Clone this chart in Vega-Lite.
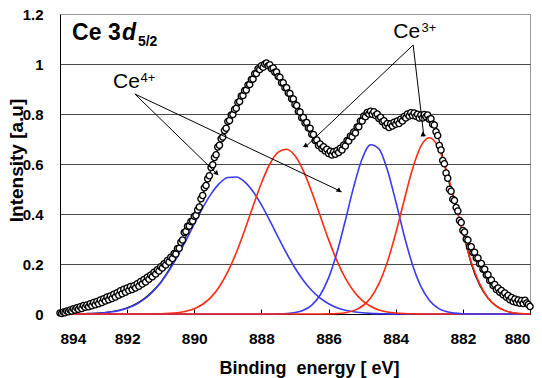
{
"$schema": "https://vega.github.io/schema/vega-lite/v6.json",
"width": 470, "height": 300,
"autosize": {"type": "none"},
"padding": {"left": 60, "top": 14, "right": 12, "bottom": 64},
"background": "white",
"config": {
 "font": "Liberation Sans",
 "view": {"stroke": "#9a9a9a", "strokeWidth": 1},
 "axis": {"labelFont": "Liberation Sans", "titleFont": "Liberation Sans", "labelColor": "#000", "titleColor": "#000", "labelFontWeight": "bold", "titleFontWeight": "bold", "domainColor": "#000", "domainWidth": 1}
},
"datasets": {
 "spec": [
{"e":894.00,"i":0.004},{"e":893.95,"i":0.002},{"e":893.90,"i":0.008},{"e":893.85,"i":0.005},{"e":893.80,"i":0.012},{"e":893.75,"i":0.009},{"e":893.70,"i":0.016},{"e":893.65,"i":0.012},{"e":893.60,"i":0.021},{"e":893.55,"i":0.016},
{"e":893.50,"i":0.025},{"e":893.45,"i":0.019},{"e":893.40,"i":0.029},{"e":893.35,"i":0.022},{"e":893.30,"i":0.034},{"e":893.25,"i":0.027},{"e":893.20,"i":0.036},{"e":893.15,"i":0.029},{"e":893.10,"i":0.041},{"e":893.05,"i":0.033},
{"e":893.00,"i":0.046},{"e":892.95,"i":0.037},{"e":892.90,"i":0.050},{"e":892.85,"i":0.041},{"e":892.80,"i":0.056},{"e":892.75,"i":0.046},{"e":892.70,"i":0.061},{"e":892.65,"i":0.052},{"e":892.60,"i":0.068},{"e":892.55,"i":0.057},
{"e":892.50,"i":0.072},{"e":892.45,"i":0.062},{"e":892.40,"i":0.079},{"e":892.35,"i":0.068},{"e":892.30,"i":0.085},{"e":892.25,"i":0.075},{"e":892.20,"i":0.093},{"e":892.15,"i":0.081},{"e":892.10,"i":0.099},{"e":892.05,"i":0.087},
{"e":892.00,"i":0.104},{"e":891.95,"i":0.094},{"e":891.90,"i":0.110},{"e":891.85,"i":0.098},{"e":891.80,"i":0.113},{"e":891.75,"i":0.104},{"e":891.70,"i":0.121},{"e":891.65,"i":0.111},{"e":891.60,"i":0.130},{"e":891.55,"i":0.120},
{"e":891.50,"i":0.138},{"e":891.45,"i":0.128},{"e":891.40,"i":0.147},{"e":891.35,"i":0.139},{"e":891.30,"i":0.156},{"e":891.25,"i":0.149},{"e":891.20,"i":0.167},{"e":891.15,"i":0.160},{"e":891.10,"i":0.177},{"e":891.05,"i":0.172},
{"e":891.00,"i":0.189},{"e":890.95,"i":0.184},{"e":890.90,"i":0.201},{"e":890.85,"i":0.196},{"e":890.80,"i":0.214},{"e":890.75,"i":0.208},{"e":890.70,"i":0.227},{"e":890.65,"i":0.222},{"e":890.60,"i":0.242},{"e":890.55,"i":0.240},
{"e":890.50,"i":0.262},{"e":890.45,"i":0.263},{"e":890.40,"i":0.287},{"e":890.35,"i":0.296},{"e":890.30,"i":0.326},{"e":890.25,"i":0.330},{"e":890.20,"i":0.351},{"e":890.15,"i":0.352},{"e":890.10,"i":0.370},{"e":890.05,"i":0.372},
{"e":890.00,"i":0.391},{"e":889.95,"i":0.394},{"e":889.90,"i":0.416},{"e":889.85,"i":0.428},{"e":889.80,"i":0.461},{"e":889.75,"i":0.474},{"e":889.70,"i":0.505},{"e":889.65,"i":0.514},{"e":889.60,"i":0.541},{"e":889.55,"i":0.553},
{"e":889.50,"i":0.586},{"e":889.45,"i":0.597},{"e":889.40,"i":0.626},{"e":889.35,"i":0.637},{"e":889.30,"i":0.668},{"e":889.25,"i":0.675},{"e":889.20,"i":0.701},{"e":889.15,"i":0.708},{"e":889.10,"i":0.734},{"e":889.05,"i":0.743},
{"e":889.00,"i":0.770},{"e":888.95,"i":0.774},{"e":888.90,"i":0.796},{"e":888.85,"i":0.798},{"e":888.80,"i":0.818},{"e":888.75,"i":0.823},{"e":888.70,"i":0.846},{"e":888.65,"i":0.850},{"e":888.60,"i":0.872},{"e":888.55,"i":0.874},
{"e":888.50,"i":0.894},{"e":888.45,"i":0.896},{"e":888.40,"i":0.916},{"e":888.35,"i":0.918},{"e":888.30,"i":0.938},{"e":888.25,"i":0.940},{"e":888.20,"i":0.961},{"e":888.15,"i":0.962},{"e":888.10,"i":0.981},{"e":888.05,"i":0.978},
{"e":888.00,"i":0.993},{"e":887.95,"i":0.987},{"e":887.90,"i":1.000},{"e":887.85,"i":1.004},{"e":887.80,"i":0.993},{"e":887.75,"i":0.997},{"e":887.70,"i":0.981},{"e":887.65,"i":0.984},{"e":887.60,"i":0.967},{"e":887.55,"i":0.968},
{"e":887.50,"i":0.950},{"e":887.45,"i":0.947},{"e":887.40,"i":0.925},{"e":887.35,"i":0.925},{"e":887.30,"i":0.905},{"e":887.25,"i":0.905},{"e":887.20,"i":0.884},{"e":887.15,"i":0.882},{"e":887.10,"i":0.861},{"e":887.05,"i":0.860},
{"e":887.00,"i":0.838},{"e":886.95,"i":0.834},{"e":886.90,"i":0.810},{"e":886.85,"i":0.808},{"e":886.80,"i":0.785},{"e":886.75,"i":0.786},{"e":886.70,"i":0.764},{"e":886.65,"i":0.766},{"e":886.60,"i":0.744},{"e":886.55,"i":0.743},
{"e":886.50,"i":0.719},{"e":886.45,"i":0.718},{"e":886.40,"i":0.694},{"e":886.35,"i":0.696},{"e":886.30,"i":0.674},{"e":886.25,"i":0.680},{"e":886.20,"i":0.662},{"e":886.15,"i":0.669},{"e":886.10,"i":0.652},{"e":886.05,"i":0.659},
{"e":886.00,"i":0.642},{"e":885.95,"i":0.651},{"e":885.90,"i":0.636},{"e":885.85,"i":0.649},{"e":885.80,"i":0.639},{"e":885.75,"i":0.654},{"e":885.70,"i":0.646},{"e":885.65,"i":0.663},{"e":885.60,"i":0.656},{"e":885.55,"i":0.676},
{"e":885.50,"i":0.672},{"e":885.45,"i":0.694},{"e":885.40,"i":0.692},{"e":885.35,"i":0.712},{"e":885.30,"i":0.709},{"e":885.25,"i":0.728},{"e":885.20,"i":0.724},{"e":885.15,"i":0.748},{"e":885.10,"i":0.749},{"e":885.05,"i":0.772},
{"e":885.00,"i":0.772},{"e":884.95,"i":0.792},{"e":884.90,"i":0.789},{"e":884.85,"i":0.806},{"e":884.80,"i":0.800},{"e":884.75,"i":0.811},{"e":884.70,"i":0.799},{"e":884.65,"i":0.809},{"e":884.60,"i":0.794},{"e":884.55,"i":0.800},
{"e":884.50,"i":0.782},{"e":884.45,"i":0.787},{"e":884.40,"i":0.769},{"e":884.35,"i":0.773},{"e":884.30,"i":0.754},{"e":884.25,"i":0.762},{"e":884.20,"i":0.746},{"e":884.15,"i":0.761},{"e":884.10,"i":0.752},{"e":884.05,"i":0.767},
{"e":884.00,"i":0.759},{"e":883.95,"i":0.772},{"e":883.90,"i":0.762},{"e":883.85,"i":0.779},{"e":883.80,"i":0.772},{"e":883.75,"i":0.790},{"e":883.70,"i":0.784},{"e":883.65,"i":0.800},{"e":883.60,"i":0.792},{"e":883.55,"i":0.805},
{"e":883.50,"i":0.794},{"e":883.45,"i":0.804},{"e":883.40,"i":0.791},{"e":883.35,"i":0.799},{"e":883.30,"i":0.784},{"e":883.25,"i":0.796},{"e":883.20,"i":0.784},{"e":883.15,"i":0.798},{"e":883.10,"i":0.789},{"e":883.05,"i":0.796},
{"e":883.00,"i":0.779},{"e":882.95,"i":0.781},{"e":882.90,"i":0.759},{"e":882.85,"i":0.756},{"e":882.80,"i":0.729},{"e":882.75,"i":0.714},{"e":882.70,"i":0.674},{"e":882.65,"i":0.656},{"e":882.60,"i":0.614},{"e":882.55,"i":0.601},
{"e":882.50,"i":0.564},{"e":882.45,"i":0.543},{"e":882.40,"i":0.499},{"e":882.35,"i":0.491},{"e":882.30,"i":0.459},{"e":882.25,"i":0.454},{"e":882.20,"i":0.426},{"e":882.15,"i":0.412},{"e":882.10,"i":0.374},{"e":882.05,"i":0.366},
{"e":882.00,"i":0.334},{"e":881.95,"i":0.328},{"e":881.90,"i":0.299},{"e":881.85,"i":0.296},{"e":881.80,"i":0.269},{"e":881.75,"i":0.269},{"e":881.70,"i":0.246},{"e":881.65,"i":0.247},{"e":881.60,"i":0.224},{"e":881.55,"i":0.224},
{"e":881.50,"i":0.201},{"e":881.45,"i":0.202},{"e":881.40,"i":0.179},{"e":881.35,"i":0.179},{"e":881.30,"i":0.156},{"e":881.25,"i":0.157},{"e":881.20,"i":0.134},{"e":881.15,"i":0.136},{"e":881.10,"i":0.114},{"e":881.05,"i":0.118},
{"e":881.00,"i":0.098},{"e":880.95,"i":0.104},{"e":880.90,"i":0.087},{"e":880.85,"i":0.094},{"e":880.80,"i":0.077},{"e":880.75,"i":0.084},{"e":880.70,"i":0.067},{"e":880.65,"i":0.074},{"e":880.60,"i":0.057},{"e":880.55,"i":0.066},
{"e":880.50,"i":0.050},{"e":880.45,"i":0.060},{"e":880.40,"i":0.046},{"e":880.35,"i":0.056},{"e":880.30,"i":0.043},{"e":880.25,"i":0.054},{"e":880.20,"i":0.042},{"e":880.15,"i":0.055},{"e":880.10,"i":0.044},{"e":880.05,"i":0.038},
{"e":880.00,"i":0.030}
 ],
 "fits": [
{"e":894.00,"b1":0.0001,"r1":0,"b2":0,"r2":0,"fit":0},
{"e":893.75,"b1":0.0003,"r1":0,"b2":0,"r2":0,"fit":0},
{"e":893.50,"b1":0.0005,"r1":0,"b2":0,"r2":0,"fit":0.001},
{"e":893.25,"b1":0.0011,"r1":0,"b2":0,"r2":0,"fit":0.002},
{"e":893.00,"b1":0.0022,"r1":0,"b2":0,"r2":0,"fit":0.003},
{"e":892.75,"b1":0.0042,"r1":0,"b2":0,"r2":0,"fit":0.005},
{"e":892.50,"b1":0.0077,"r1":0,"b2":0,"r2":0,"fit":0.009},
{"e":892.25,"b1":0.0136,"r1":0,"b2":0,"r2":0,"fit":0.015},
{"e":892.00,"b1":0.023,"r1":0.0001,"b2":0,"r2":0,"fit":0.025},
{"e":891.75,"b1":0.0373,"r1":0.0001,"b2":0,"r2":0,"fit":0.04},
{"e":891.50,"b1":0.0581,"r1":0.0002,"b2":0,"r2":0,"fit":0.061},
{"e":891.25,"b1":0.0871,"r1":0.0004,"b2":0,"r2":0,"fit":0.09},
{"e":891.00,"b1":0.1253,"r1":0.001,"b2":0,"r2":0,"fit":0.128},
{"e":890.75,"b1":0.1733,"r1":0.0024,"b2":0,"r2":0,"fit":0.178},
{"e":890.50,"b1":0.2302,"r1":0.0053,"b2":0,"r2":0,"fit":0.24},
{"e":890.25,"b1":0.2937,"r1":0.0109,"b2":0,"r2":0,"fit":0.31},
{"e":890.00,"b1":0.3602,"r1":0.0212,"b2":0,"r2":0,"fit":0.385},
{"e":889.75,"b1":0.4244,"r1":0.039,"b2":0,"r2":0,"fit":0.478},
{"e":889.50,"b1":0.4804,"r1":0.0675,"b2":0,"r2":0,"fit":0.58},
{"e":889.25,"b1":0.5225,"r1":0.11,"b2":0,"r2":0,"fit":0.677},
{"e":889.00,"b1":0.546,"r1":0.1691,"b2":0,"r2":0,"fit":0.765},
{"e":888.75,"b1":0.5482,"r1":0.245,"b2":0,"r2":0,"fit":0.826},
{"e":888.50,"b1":0.5289,"r1":0.3348,"b2":0,"r2":0,"fit":0.888},
{"e":888.25,"b1":0.4902,"r1":0.4314,"b2":0,"r2":0,"fit":0.943},
{"e":888.00,"b1":0.4365,"r1":0.5239,"b2":0,"r2":0,"fit":0.988},
{"e":887.75,"b1":0.3735,"r1":0.6,"b2":0.0002,"r2":0,"fit":0.994},
{"e":887.50,"b1":0.307,"r1":0.6477,"b2":0.0006,"r2":0,"fit":0.955},
{"e":887.25,"b1":0.2424,"r1":0.6592,"b2":0.0019,"r2":0,"fit":0.9},
{"e":887.00,"b1":0.184,"r1":0.6326,"b2":0.0057,"r2":0,"fit":0.843},
{"e":886.75,"b1":0.1341,"r1":0.5723,"b2":0.0151,"r2":0,"fit":0.78},
{"e":886.50,"b1":0.0939,"r1":0.4881,"b2":0.0358,"r2":0,"fit":0.725},
{"e":886.25,"b1":0.0632,"r1":0.3926,"b2":0.076,"r2":0.0002,"fit":0.674},
{"e":886.00,"b1":0.0409,"r1":0.2976,"b2":0.1445,"r2":0.0006,"fit":0.648},
{"e":885.75,"b1":0.0254,"r1":0.2127,"b2":0.2458,"r2":0.0019,"fit":0.648},
{"e":885.50,"b1":0.0152,"r1":0.1433,"b2":0.3741,"r2":0.0053,"fit":0.678},
{"e":885.25,"b1":0.0087,"r1":0.0911,"b2":0.5095,"r2":0.0135,"fit":0.722},
{"e":885.00,"b1":0.0048,"r1":0.0546,"b2":0.6209,"r2":0.031,"fit":0.778},
{"e":884.75,"b1":0.0025,"r1":0.0308,"b2":0.677,"r2":0.0644,"fit":0.805},
{"e":884.50,"b1":0.0013,"r1":0.0164,"b2":0.6607,"r2":0.1215,"fit":0.788},
{"e":884.25,"b1":0.0006,"r1":0.0082,"b2":0.5769,"r2":0.208,"fit":0.756},
{"e":884.00,"b1":0.0003,"r1":0.0039,"b2":0.4508,"r2":0.3227,"fit":0.765},
{"e":883.75,"b1":0.0001,"r1":0.0017,"b2":0.3153,"r2":0.4543,"fit":0.784},
{"e":883.50,"b1":0,"r1":0.0007,"b2":0.1972,"r2":0.58,"fit":0.8},
{"e":883.25,"b1":0,"r1":0.0003,"b2":0.1104,"r2":0.6714,"fit":0.79},
{"e":883.00,"b1":0,"r1":0.0001,"b2":0.0553,"r2":0.705,"fit":0.785},
{"e":882.75,"b1":0,"r1":0,"b2":0.0248,"r2":0.6714,"fit":0.715},
{"e":882.50,"b1":0,"r1":0,"b2":0.0099,"r2":0.58,"fit":0.57},
{"e":882.25,"b1":0,"r1":0,"b2":0.0036,"r2":0.4543,"fit":0.45},
{"e":882.00,"b1":0,"r1":0,"b2":0.0011,"r2":0.3227,"fit":0.33},
{"e":881.75,"b1":0,"r1":0,"b2":0.0003,"r2":0.208,"fit":0.2},
{"e":881.50,"b1":0,"r1":0,"b2":0.0001,"r2":0.1215,"fit":0.115},
{"e":881.25,"b1":0,"r1":0,"b2":0,"r2":0.0644,"fit":0.063},
{"e":881.00,"b1":0,"r1":0,"b2":0,"r2":0.031,"fit":0.032},
{"e":880.75,"b1":0,"r1":0,"b2":0,"r2":0.0135,"fit":0.014},
{"e":880.50,"b1":0,"r1":0,"b2":0,"r2":0.0053,"fit":0.005},
{"e":880.25,"b1":0,"r1":0,"b2":0,"r2":0.0019,"fit":0.001},
{"e":880.00,"b1":0,"r1":0,"b2":0,"r2":0.0006,"fit":0}
 ],
 "arrows": [
{"id":"a","e":891.77,"i":0.88,"e2":889.29,"i2":0.556},
{"id":"b","e":891.77,"i":0.88,"e2":885.61,"i2":0.489},
{"id":"c","e":883.48,"i":1.076,"e2":886.70,"i2":0.667},
{"id":"d","e":883.48,"i":1.076,"e2":883.16,"i2":0.709}
 ],
 "heads": [
{"id":"a","e":889.33,"i":0.562},
{"id":"b","e":885.68,"i":0.493},
{"id":"c","e":886.66,"i":0.672},
{"id":"d","e":883.165,"i":0.716}
 ],
 "labels": [
{"t":"Ce 3","e":893.64,"i":1.096,"k":"bold"},
{"t":"d","e":892.15,"i":1.096,"k":"ital"},
{"t":"5/2","e":891.68,"i":1.074,"k":"sub"},
{"t":"Ce","e":892.42,"i":0.903,"k":"norm"},
{"t":"4+","e":891.60,"i":0.93,"k":"sup"},
{"t":"Ce","e":884.07,"i":1.103,"k":"norm"},
{"t":"3+","e":883.23,"i":1.13,"k":"sup"}
 ]
},
"encoding": {
 "x": {"field": "e", "type": "quantitative",
  "scale": {"domain": [880, 894], "reverse": true, "nice": false, "zero": false},
  "axis": {"values": [880, 882, 884, 886, 888, 890, 892, 894], "format": "d", "labelFontSize": 15.5, "tickSize": -5, "tickColor": "#000", "labelPadding": 22, "grid": false,
   "title": "Binding\u00a0 energy [ eV]", "titleFontSize": 18, "titleX": 249, "titleY": 59, "titleBaseline": "alphabetic", "titleAlign": "center"}},
 "y": {"field": "i", "type": "quantitative",
  "scale": {"domain": [0, 1.2], "nice": false, "zero": true},
  "axis": {"values": [0, 0.2, 0.4, 0.6, 0.8, 1, 1.2], "format": ".1~f", "labelFontSize": 15, "ticks": false, "labelPadding": 17, "grid": true,
   "gridColor": {"condition": {"test": "datum.value > 1.1", "value": "#9a9a9a"}, "value": "#4a4a4a"}, "gridWidth": 1,
   "title": "Intensity [a.u]", "titleFontSize": 19, "titleX": -44, "titleY": 146, "titleAngle": -90, "titleBaseline": "middle", "titleAlign": "center"}}
},
"layer": [
 {"data": {"name": "fits"}, "transform": [{"fold": ["fit"], "as": ["key", "i"]}],
  "mark": {"type": "line", "color": "#000", "strokeWidth": 1.2, "interpolate": "monotone"}},
 {"data": {"name": "fits"}, "transform": [{"fold": ["b1", "r1", "b2", "r2"], "as": ["key", "i"]}],
  "mark": {"type": "line", "strokeWidth": 1.6, "interpolate": "monotone"},
  "encoding": {"color": {"field": "key", "type": "nominal", "scale": {"domain": ["b1", "r1", "b2", "r2"], "range": ["#3a3af2", "#ff2a12", "#3a3af2", "#ff2a12"]}, "legend": null}}},
 {"data": {"name": "spec"},
  "mark": {"type": "point", "shape": "circle", "filled": true, "fill": "white", "stroke": "black", "strokeWidth": 1.4, "size": 38, "opacity": 1}},
 {"data": {"name": "arrows"},
  "mark": {"type": "rule", "color": "#000", "strokeWidth": 1},
  "encoding": {"x2": {"field": "e2"}, "y2": {"field": "i2"}}},
 {"data": {"name": "heads"},
  "mark": {"type": "point", "shape": "triangle-up", "filled": true, "color": "#000", "size": 30, "opacity": 1},
  "encoding": {"angle": {"field": "id", "type": "nominal", "scale": {"domain": ["a", "b", "c", "d"], "range": [134, 115, 227, 173]}, "legend": null}}},
 {"data": {"name": "labels"}, "transform": [{"filter": "datum.k == 'norm'"}],
  "mark": {"type": "text", "align": "left", "baseline": "alphabetic", "fontSize": 21, "font": "Liberation Sans", "color": "#000"},
  "encoding": {"text": {"field": "t"}}},
 {"data": {"name": "labels"}, "transform": [{"filter": "datum.k == 'sup'"}],
  "mark": {"type": "text", "align": "left", "baseline": "alphabetic", "fontSize": 13, "font": "Liberation Sans", "color": "#000"},
  "encoding": {"text": {"field": "t"}}},
 {"data": {"name": "labels"}, "transform": [{"filter": "datum.k == 'bold'"}],
  "mark": {"type": "text", "align": "left", "baseline": "alphabetic", "fontSize": 23, "fontWeight": "bold", "font": "Liberation Sans", "color": "#000"},
  "encoding": {"text": {"field": "t"}}},
 {"data": {"name": "labels"}, "transform": [{"filter": "datum.k == 'ital'"}],
  "mark": {"type": "text", "align": "left", "baseline": "alphabetic", "fontSize": 23, "fontWeight": "bold", "fontStyle": "italic", "font": "Liberation Sans", "color": "#000"},
  "encoding": {"text": {"field": "t"}}},
 {"data": {"name": "labels"}, "transform": [{"filter": "datum.k == 'sub'"}],
  "mark": {"type": "text", "align": "left", "baseline": "alphabetic", "fontSize": 14, "fontWeight": "bold", "font": "Liberation Sans", "color": "#000"},
  "encoding": {"text": {"field": "t"}}}
]
}
